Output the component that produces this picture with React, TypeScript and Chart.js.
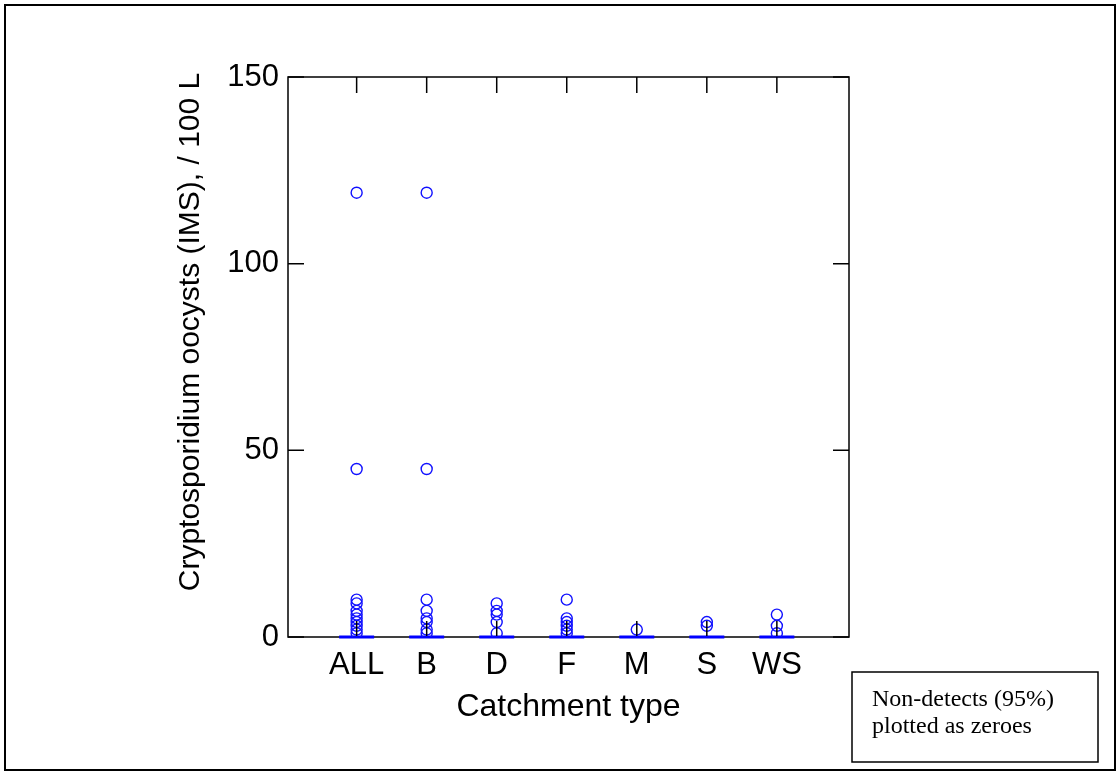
import React, { useEffect, useRef } from "react";
import { Chart, registerables } from "chart.js";

Chart.register(...registerables);

// ---- data ----
const categories = ["ALL", "B", "D", "F", "M", "S", "WS"];
const valuesALL = [119, 45, 10, 9, 7, 6, 5, 4, 3, 2, 1];
const valuesB = [119, 45, 10, 7, 5, 4, 2, 1];
const valuesD = [9, 7, 6, 4, 1];
const valuesF = [10, 5, 4, 3, 2, 1];
const valuesM = [2];
const valuesS = [4, 3];
const valuesWS = [6, 3, 1];
const medians = [0, 0, 0, 0, 0, 0, 0];
const yTicks = [0, 50, 100, 150];
const yTitle = "Cryptosporidium oocysts (IMS), / 100 L";
const xTitle = "Catchment type";
const noteLines = ["Non-detects (95%)", "plotted as zeroes"];

const seriesValues = [valuesALL, valuesB, valuesD, valuesF, valuesM, valuesS, valuesWS];

const SANS = "'Liberation Sans', Arial, sans-serif";
const SERIF = "'Liberation Serif', 'Times New Roman', serif";

const decorPlugin = {
  id: "decor",
  beforeDatasetsDraw(chart: any) {
    const { ctx, chartArea } = chart;
    const { left, right, top, bottom } = chartArea;
    ctx.save();
    ctx.strokeStyle = "#000";
    ctx.lineWidth = 1.5;
    ctx.strokeRect(left, top, right - left, bottom - top);
    ctx.restore();
  },
  afterDatasetsDraw(chart: any) {
    const { ctx, chartArea } = chart;
    const xs = chart.scales.x;
    const ys = chart.scales.y;
    const { left, right, top, bottom } = chartArea;
    ctx.save();
    ctx.strokeStyle = "#000";
    ctx.lineWidth = 1.5;
    // inward ticks
    const tl = 16;
    ctx.beginPath();
    categories.forEach((_, i) => {
      const px = xs.getPixelForValue(i + 1);
      ctx.moveTo(px, bottom - 1);
      ctx.lineTo(px, bottom - tl);
      ctx.moveTo(px, top);
      ctx.lineTo(px, top + tl);
    });
    yTicks.forEach((v) => {
      const py = ys.getPixelForValue(v);
      ctx.moveTo(left, py);
      ctx.lineTo(left + tl, py);
      ctx.moveTo(right, py);
      ctx.lineTo(right - tl, py);
    });
    ctx.stroke();
    // y title
    ctx.fillStyle = "#000";
    ctx.font = `30px ${SANS}`;
    ctx.textAlign = "center";
    ctx.textBaseline = "middle";
    ctx.translate(191, 332);
    ctx.rotate(-Math.PI / 2);
    ctx.fillText(yTitle, 0, 0);
    ctx.restore();

    ctx.save();
    // outer frame
    ctx.strokeStyle = "#000";
    ctx.lineWidth = 2;
    ctx.strokeRect(5, 5, 1110, 765);
    // note box
    ctx.lineWidth = 1.5;
    ctx.strokeRect(852, 672, 246, 90);
    ctx.fillStyle = "#000";
    ctx.font = `24px ${SERIF}`;
    ctx.textAlign = "left";
    ctx.textBaseline = "alphabetic";
    ctx.fillText(noteLines[0], 872, 706);
    ctx.fillText(noteLines[1], 872, 733);
    ctx.restore();
  },
};

export default function App() {
  const ref = useRef<HTMLCanvasElement>(null);

  useEffect(() => {
    document.body.style.margin = "0";
    const canvas = ref.current;
    if (!canvas) return;

    const pointSets = seriesValues.map((vals, i) => ({
      type: "scatter" as const,
      label: categories[i],
      data: vals.map((v) => ({ x: i + 1, y: v })),
      pointStyle: "circle",
      pointRadius: 5.5,
      pointHoverRadius: 5.5,
      borderColor: "#1010ff",
      backgroundColor: "rgba(0,0,0,0)",
      borderWidth: 1.4,
      showLine: false,
    }));

    const medianSets = medians.map((m, i) => ({
      type: "line" as const,
      label: categories[i] + " median",
      data: [
        { x: i + 1 - 0.25, y: m },
        { x: i + 1 + 0.25, y: m },
      ],
      borderColor: "#0000ff",
      borderWidth: 3,
      pointRadius: 0,
      fill: false,
      clip: false as any,
    }));

    const chart = new Chart(canvas, {
      type: "scatter",
      data: { datasets: [...pointSets, ...medianSets] as any },
      options: {
        animation: false,
        responsive: false,
        events: [],
        layout: { padding: { left: 0, top: 77, right: 271, bottom: 0 } },
        plugins: {
          legend: { display: false },
          tooltip: { enabled: false },
        },
        scales: {
          x: {
            type: "linear",
            min: 0.02,
            max: 8.03,
            grid: { display: false, drawTicks: false },
            border: { display: false },
            afterFit: (s: any) => {
              s.height = 138;
            },
            afterBuildTicks: (s: any) => {
              s.ticks = categories.map((_, i) => ({ value: i + 1 }));
            },
            ticks: {
              autoSkip: false,
              maxRotation: 0,
              padding: 10,
              color: "#000",
              font: { family: SANS, size: 31 },
              callback: (v: any) => categories[Number(v) - 1] ?? "",
            },
            title: {
              display: true,
              text: xTitle,
              color: "#000",
              font: { family: SANS, size: 32 },
              padding: { top: 0, bottom: 49 },
            },
          },
          y: {
            type: "linear",
            min: 0,
            max: 150,
            grid: { display: false, drawTicks: false },
            border: { display: false },
            afterFit: (s: any) => {
              s.width = 288;
            },
            afterBuildTicks: (s: any) => {
              s.ticks = yTicks.map((v) => ({ value: v }));
            },
            ticks: {
              padding: 9,
              color: "#000",
              font: { family: SANS, size: 31 },
            },
          },
        },
      },
      plugins: [decorPlugin],
    });

    return () => chart.destroy();
  }, []);

  return (
    <canvas
      ref={ref}
      width={1120}
      height={775}
      style={{ display: "block", width: 1120, height: 775 }}
    />
  );
}
